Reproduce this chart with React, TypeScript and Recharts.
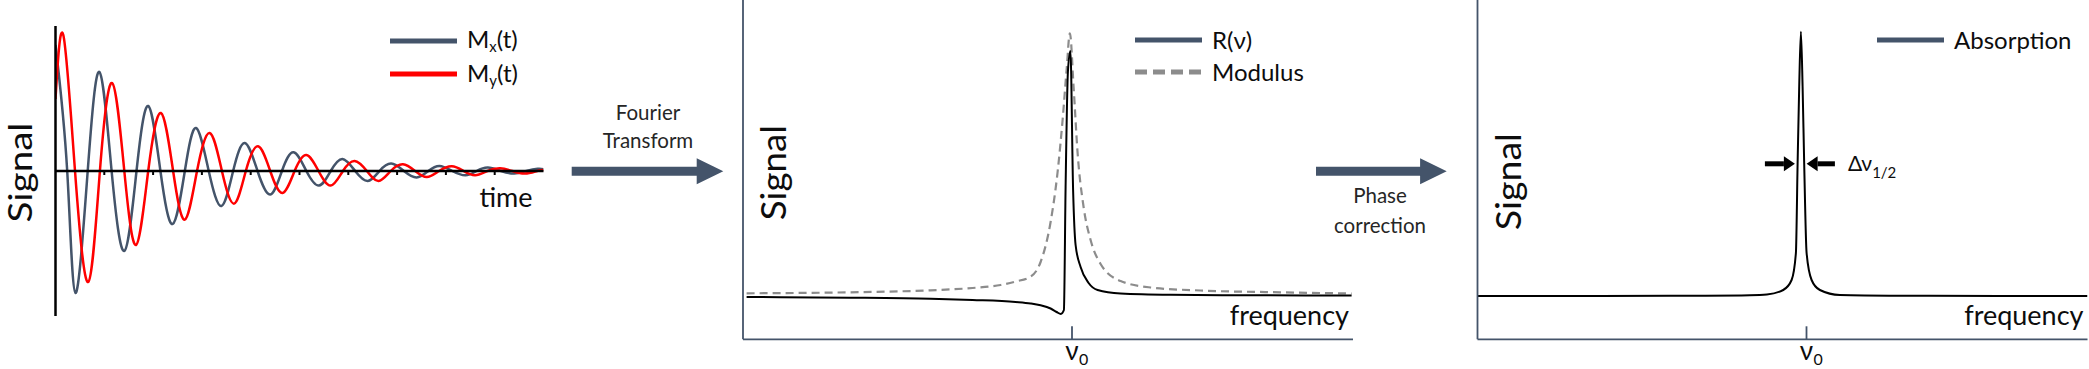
import React from 'react'
import { LineChart, Line, XAxis, YAxis, ReferenceLine, Legend, Label } from 'recharts'

const FONT = 'Lato, "Open Sans", "DejaVu Sans", sans-serif'
const SLATE = '#44546A'
const INK = '#0d0d0d'
const MOD_GRAY = '#8C8C8C'

// panel 1: free induction decay (time in tick units, signal in arbitrary units)
const mxTime = [0, 0.24, 0.41, 0.66, 0.9, 1.15, 1.41, 1.66, 1.9, 2.15, 2.4, 2.65, 2.88, 3.14, 3.4, 3.64, 3.88, 4.14, 4.4, 4.64, 4.88, 5.14, 5.4, 5.64, 5.88, 6.14, 6.4, 6.64, 6.88, 7.14, 7.4, 7.64, 7.87, 8.13, 8.4, 8.63, 8.86, 9.13, 9.4, 9.65, 9.88, 10]
const mxSignal = [126, 0, -122, 0, 99, 0, -80, 0, 65, 0, -53, 0, 43, 0, -35, 0, 28, 0, -23.5, 0, 18.7, 0, -14.6, 0, 12, 0, -10, 0, 7.4, 0, -6.5, 0, 5, 0, -4.3, 0, 3.4, 0, -2.6, 0, 2.2, 1.8]
const myTime = [0, 0.16, 0.4, 0.67, 0.91, 1.16, 1.41, 1.65, 1.9, 2.16, 2.41, 2.65, 2.9, 3.16, 3.41, 3.66, 3.9, 4.15, 4.4, 4.65, 4.9, 5.14, 5.39, 5.64, 5.89, 6.13, 6.38, 6.62, 6.87, 7.12, 7.37, 7.61, 7.86, 8.12, 8.36, 8.6, 8.85, 9.11, 9.36, 9.62, 9.87, 10]
const mySignal = [72, 136, 0, -111, 0, 88, 0, -74, 0, 58, 0, -48.6, 0, 38, 0, -32.6, 0, 24.7, 0, -22, 0, 16, 0, -14.6, 0, 10, 0, -10, 0, 6.7, 0, -6, 0, 4.7, 0, -4.3, 0, 2.7, 0, -2.6, 0, 1]
const fidTicks = [1, 2, 3, 4, 5, 6, 7, 8, 9]

// panel 2: spectrum before phase correction (frequency offset from v0)
const realFreq = [-325.4, -221.4, -141.4, -99.4, -56.4, -41.4, -31.4, -21.4, -15.4, -11.1, -8.1, -6.4, -4.1, -1.6, 1.1, 3.6, 8.6, 16.6, 25.6, 48.6, 98.6, 178.6, 279.6]
const realSignal = [42.3, 41.6, 40.5, 39.3, 37.3, 35.8, 34, 30.8, 27.3, 25.3, 29.3, 152.3, 267.3, 288.3, 149.3, 94.3, 72.3, 56.3, 49.3, 45.8, 44.5, 44, 43.8]
const modFreq = [-325.4, -221.4, -141.4, -99.4, -71.4, -56.4, -41.4, -31.4, -21.4, -14.4, -9.4, -5.4, -2.1, 1.6, 5.6, 11.6, 18.6, 28.6, 48.6, 78.6, 128.6, 208.6, 279.6]
const modSignal = [46, 47, 49, 51.3, 54.3, 57.8, 62.6, 77.3, 117.3, 167.3, 219.3, 269.3, 306, 252.3, 186.3, 132.3, 99.3, 75.3, 58.3, 51.8, 48.8, 47, 45.8]

// panel 3: absorption spectrum after phase correction
const absFreq = [-329, -206.6, -106.6, -56.6, -39.6, -23.3, -14.9, -10.6, -8.9, -7.3, -5.6, -3.9, -2.3, 0.1, 5.1, 13.4, 33.4, 93.4, 193.4, 281]
const absSignal = [43.3, 43.3, 43.6, 44.1, 44.8, 49.3, 59.3, 86.3, 175.3, 252.6, 307.6, 252.6, 175.3, 86.3, 59.3, 49.3, 44.3, 43.6, 43.3, 43.3]
const halfHeight = 175.5
const fwhmArrows = [
  [-41.6, -11.6],
  [28.4, 0.1],
]

const zip = (xs: number[], ys: number[], key: string) => xs.map((x, i) => ({ [key]: x, s: ys[i] }))

const mxData = zip(mxTime, mxSignal, 't')
const myData = zip(myTime, mySignal, 't')
const realData = zip(realFreq, realSignal, 'f')
const modData = zip(modFreq, modSignal, 'f')
const absData = zip(absFreq, absSignal, 'f')

const bigArrows = [
  { from: 571.7, to: 723.3, y: 171.3, words: ['Fourier', 'Transform'], tx: 648, ty: [120, 148.3] },
  { from: 1316, to: 1446.7, y: 171.3, words: ['Phase', 'correction'], tx: 1380, ty: [203.3, 233.3] },
]

const arrowPoints = (x0: number, x1: number, y: number) => {
  const b = x1 - 26.6
  return `${x0},${y - 4.5} ${b},${y - 4.5} ${b},${y - 13} ${x1},${y} ${b},${y + 13} ${b},${y + 4.5} ${x0},${y + 4.5}`
}

const withSub = (label: string) => {
  const i = label.indexOf('_')
  if (i < 0) return label
  return (
    <>
      {label.slice(0, i)}
      <sub style={{ fontSize: '0.62em', verticalAlign: '-0.3em' }}>{label[i + 1]}</sub>
      {label.slice(i + 2)}
    </>
  )
}

type Swatch = { color: string; dash?: string }

const legendContent = (order: string[], swatches: Record<string, Swatch>, rowH: number) => (props: any) => {
  const items = [...(props.payload || [])].sort(
    (a: any, b: any) => order.indexOf(a.value) - order.indexOf(b.value)
  )
  return (
    <div style={{ fontFamily: FONT, color: INK }}>
      {items.map((it: any) => (
        <div key={it.value} style={{ display: 'flex', alignItems: 'center', height: rowH }}>
          <svg width={67} height={8} style={{ display: 'block' }}>
            <line
              x1={0}
              y1={4}
              x2={67}
              y2={4}
              stroke={swatches[it.value].color}
              strokeWidth={5}
              strokeDasharray={swatches[it.value].dash}
            />
          </svg>
          <span style={{ marginLeft: 10, fontSize: 24, lineHeight: 1, whiteSpace: 'nowrap' }}>
            {withSub(it.value)}
          </span>
        </div>
      ))}
    </div>
  )
}

const sideTitle = (dx: number, dy: number, len: number, size = 35) => (props: any) => {
  const vb = props.viewBox || {}
  const x = vb.x + (vb.width || 0) + dx
  const y = vb.y + vb.height / 2 + dy
  return (
    <text
      x={x}
      y={y}
      transform={`rotate(-90 ${x} ${y})`}
      textAnchor="middle"
      fontFamily={FONT}
      fontSize={size}
      fill={INK}
      textLength={len}
      lengthAdjust="spacingAndGlyphs"
    >
      Signal
    </text>
  )
}

const cornerName = (text: string, dx: number, dy: number) => (props: any) => {
  const vb = props.viewBox || {}
  return (
    <text x={vb.x + vb.width + dx} y={vb.y + dy} textAnchor="end" fontFamily={FONT} fontSize={27} fill={INK}>
      {text}
    </text>
  )
}

const NuTick = (props: any) => {
  const { x, y } = props
  return (
    <g>
      <text x={x} y={y + 13} textAnchor="middle" fontFamily={FONT} fontSize={26} fill={INK}>
        ν
      </text>
      <text x={x + 7} y={y + 17.5} fontFamily={FONT} fontSize={16} fill={INK}>
        0
      </text>
    </g>
  )
}

const ArrowShape = (props: any) => {
  const { x1, y1, x2, y2 } = props
  const dir = Math.sign(x2 - x1)
  const b = x2 - dir * 11
  return (
    <g>
      <line x1={x1} y1={y1} x2={b} y2={y2} stroke="#000" strokeWidth={5} />
      <polygon points={`${x2},${y2} ${b},${y2 - 7.5} ${b},${y2 + 7.5}`} fill="#000" />
    </g>
  )
}

const spectrumXAxis = (
  <XAxis
    type="number"
    dataKey="f"
    domain={[-329, 281]}
    allowDataOverflow
    ticks={[0]}
    interval={0}
    height={29.7}
    tickSize={-13}
    tickMargin={21}
    axisLine={{ stroke: SLATE, strokeWidth: 1.8 }}
    tickLine={{ stroke: SLATE, strokeWidth: 1.8 }}
    tick={<NuTick />}
  >
    <Label content={cornerName('frequency', -4, -14)} />
  </XAxis>
)

export default function App() {
  return (
    <div
      style={{
        position: 'absolute',
        left: 0,
        top: 0,
        width: 2089,
        height: 369,
        background: '#fff',
        overflow: 'hidden',
        fontFamily: FONT,
      }}
    >
      {/* FID */}
      <div style={{ position: 'absolute', left: 0, top: 0 }}>
        <LineChart width={560} height={369} margin={{ top: 26, right: 16.5, bottom: 53, left: 54.5 }}>
          <XAxis type="number" dataKey="t" domain={[0, 10]} hide allowDataOverflow />
          <YAxis
            type="number"
            domain={[-145, 145]}
            allowDataOverflow
            width={1}
            tick={false}
            tickLine={false}
            axisLine={{ stroke: '#000', strokeWidth: 2.5 }}
          >
            <Label content={sideTitle(-24, 1.5, 100, 32)} />
          </YAxis>
          <Line data={mxData} dataKey="s" name="M_x(t)" type="natural" stroke={SLATE} strokeWidth={2.5} dot={false} isAnimationActive={false} />
          <Line data={myData} dataKey="s" name="M_y(t)" type="natural" stroke="#FF0000" strokeWidth={2.5} dot={false} isAnimationActive={false} />
          <ReferenceLine y={0} stroke="#000" strokeWidth={2.5}>
            <Label content={cornerName('time', -11, 36)} />
          </ReferenceLine>
          {fidTicks.map((k) => (
            <ReferenceLine key={k} segment={[{ x: k, y: 0 }, { x: k, y: -4 }]} stroke="#000" strokeWidth={2} />
          ))}
          <Legend
            layout="horizontal"
            verticalAlign="middle"
            align="center"
            content={legendContent(['M_x(t)', 'M_y(t)'], { 'M_x(t)': { color: SLATE }, 'M_y(t)': { color: '#FF0000' } }, 33.5)}
            wrapperStyle={{ top: 24, left: 390, width: 160, height: 'auto' }}
          />
        </LineChart>
      </div>

      {/* spectrum before phase correction */}
      <div style={{ position: 'absolute', left: 700, top: 0 }}>
        <LineChart width={670} height={369} margin={{ top: 0, right: 17, bottom: 0, left: 42 }}>
          {spectrumXAxis}
          <YAxis
            type="number"
            domain={[0, 339.3]}
            allowDataOverflow
            width={1}
            tick={false}
            tickLine={false}
            axisLine={{ stroke: SLATE, strokeWidth: 1.8 }}
          >
            <Label content={sideTitle(43, 3, 95)} />
          </YAxis>
          <Line data={modData} dataKey="s" name="Modulus" type="monotone" stroke={MOD_GRAY} strokeWidth={2.2} strokeDasharray="8 5" dot={false} isAnimationActive={false} />
          <Line data={realData} dataKey="s" name="R(ν)" type="monotone" stroke="#000" strokeWidth={2} dot={false} isAnimationActive={false} />
          <Legend
            layout="horizontal"
            verticalAlign="middle"
            align="center"
            content={legendContent(['R(ν)', 'Modulus'], { 'R(ν)': { color: SLATE }, Modulus: { color: MOD_GRAY, dash: '12 6' } }, 31.7)}
            wrapperStyle={{ top: 24, left: 435, width: 200, height: 'auto' }}
          />
        </LineChart>
      </div>

      {/* absorption spectrum */}
      <div style={{ position: 'absolute', left: 1434, top: 0 }}>
        <LineChart width={655} height={369} margin={{ top: 0, right: 1.5, bottom: 0, left: 42.5 }}>
          {spectrumXAxis}
          <YAxis
            type="number"
            domain={[0, 339.3]}
            allowDataOverflow
            width={1}
            tick={false}
            tickLine={false}
            axisLine={{ stroke: SLATE, strokeWidth: 1.8 }}
          >
            <Label content={sideTitle(43.5, 12, 97)} />
          </YAxis>
          <Line data={absData} dataKey="s" name="Absorption" type="monotone" stroke="#000" strokeWidth={2} dot={false} isAnimationActive={false} />
          {fwhmArrows.map(([from, to], i) => (
            <ReferenceLine
              key={i}
              segment={[{ x: from, y: halfHeight }, { x: to, y: halfHeight }]}
              shape={ArrowShape}
            >
              {i === 1 && (
                <Label
                  content={(p: any) => {
                    const vb = p.viewBox || {}
                    return (
                      <text x={vb.x + vb.width + 13} y={vb.y + 7.4} fontFamily={FONT} fontSize={21} fill={INK}>
                        Δν
                        <tspan dy={7} fontSize={15}>
                          1/2
                        </tspan>
                      </text>
                    )
                  }}
                />
              )}
            </ReferenceLine>
          ))}
          <Legend
            layout="horizontal"
            verticalAlign="middle"
            align="center"
            content={legendContent(['Absorption'], { Absorption: { color: SLATE } }, 32)}
            wrapperStyle={{ top: 24, left: 443, width: 200, height: 'auto' }}
          />
        </LineChart>
      </div>

      {/* process arrows between panels */}
      <svg width={2089} height={369} style={{ position: 'absolute', left: 0, top: 0, pointerEvents: 'none' }}>
        {bigArrows.map((a) => (
          <g key={a.words[0]}>
            <polygon points={arrowPoints(a.from, a.to, a.y)} fill={SLATE} />
            {a.words.map((w, i) => (
              <text key={w} x={a.tx} y={a.ty[i]} textAnchor="middle" fontFamily={FONT} fontSize={20.5} fill="#262626">
                {w}
              </text>
            ))}
          </g>
        ))}
      </svg>
    </div>
  )
}
